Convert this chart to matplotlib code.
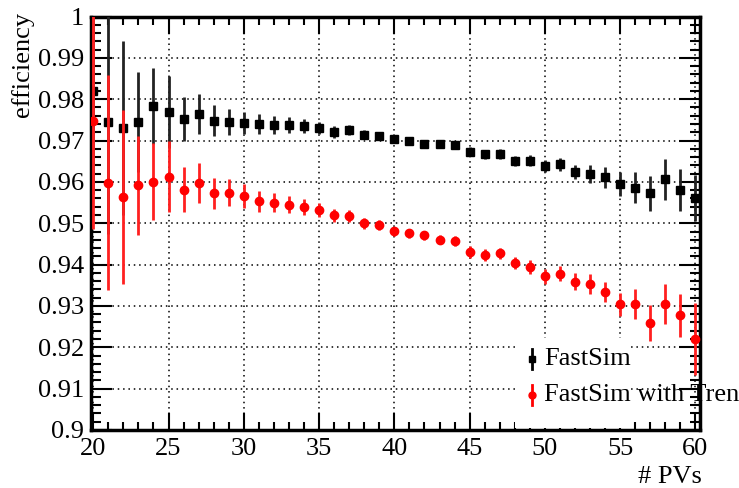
import numpy as np
import matplotlib
matplotlib.use("Agg")
import matplotlib.pyplot as plt
from matplotlib.patches import Rectangle
from matplotlib.ticker import MultipleLocator, FormatStrFormatter

# number of primary vertices
n_pv = list(range(20, 61))

# FastSim efficiency and errors
eff_fast = [0.9820, 0.9745, 0.9730, 0.9745, 0.9783, 0.9769, 0.9753, 0.9764, 0.9748, 0.9745,
            0.9742, 0.9741, 0.9738, 0.9737, 0.9735, 0.9730, 0.9720, 0.9725, 0.9714, 0.9711,
            0.9703, 0.9700, 0.9691, 0.9691, 0.9689, 0.9673, 0.9667, 0.9667, 0.9651, 0.9651,
            0.9639, 0.9643, 0.9624, 0.9619, 0.9611, 0.9595, 0.9586, 0.9572, 0.9606, 0.9580,
            0.9561]
err_fast = [0.0250, 0.0270, 0.0210, 0.0120, 0.0092, 0.0087, 0.0053, 0.0049, 0.0037, 0.0031,
            0.0027, 0.0024, 0.0021, 0.0019, 0.0017, 0.0015, 0.0014, 0.0012, 0.0011, 0.0010,
            0.0010, 0.0009, 0.0009, 0.0010, 0.0010, 0.0011, 0.0011, 0.0012, 0.0012, 0.0013,
            0.0014, 0.0016, 0.0018, 0.0022, 0.0025, 0.0028, 0.0037, 0.0043, 0.0049, 0.0051,
            0.0055]

# FastSim with Tren efficiency and errors
eff_tren = [0.9747, 0.9598, 0.9564, 0.9592, 0.9600, 0.9613, 0.9581, 0.9598, 0.9572, 0.9574,
            0.9565, 0.9553, 0.9550, 0.9545, 0.9539, 0.9533, 0.9519, 0.9518, 0.9500, 0.9495,
            0.9481, 0.9476, 0.9471, 0.9460, 0.9456, 0.9430, 0.9423, 0.9427, 0.9404, 0.9394,
            0.9372, 0.9378, 0.9359, 0.9353, 0.9333, 0.9304, 0.9305, 0.9259, 0.9304, 0.9277,
            0.9219]
err_tren = [0.0260, 0.0260, 0.0210, 0.0120, 0.0093, 0.0085, 0.0054, 0.0048, 0.0037, 0.0033,
            0.0029, 0.0026, 0.0023, 0.0021, 0.0019, 0.0017, 0.0015, 0.0014, 0.0013, 0.0012,
            0.0011, 0.0011, 0.0011, 0.0011, 0.0012, 0.0014, 0.0014, 0.0014, 0.0015, 0.0016,
            0.0018, 0.0018, 0.0020, 0.0024, 0.0024, 0.0028, 0.0037, 0.0044, 0.0048, 0.0051,
            0.0087]

labels = ["FastSim", "FastSim with Tren"]

plt.rcParams['font.family'] = ['Liberation Serif', 'DejaVu Serif']
FS = 19

fig = plt.figure(figsize=(7.39, 4.88), dpi=100)
ax = fig.add_axes([91 / 739, 58 / 488, 609 / 739, 413.5 / 488])

ax.errorbar(n_pv, eff_fast, yerr=err_fast, fmt='s', color='black', ecolor='#222222',
            ms=6, elinewidth=2, capsize=0, zorder=4)
ax.errorbar(n_pv, eff_tren, yerr=err_tren, fmt='o', color='#ff0000', ecolor='#ff2020',
            ms=6, elinewidth=2, capsize=0, zorder=5)

ax.set_xlim(19.85, 60.3)
ax.set_ylim(0.9, 1.0)

ax.xaxis.set_major_locator(MultipleLocator(5))
ax.xaxis.set_minor_locator(MultipleLocator(1))
ax.yaxis.set_major_locator(MultipleLocator(0.01))
ax.yaxis.set_minor_locator(MultipleLocator(0.002))
ax.yaxis.set_major_formatter(FormatStrFormatter('%g'))
ax.xaxis.set_major_formatter(FormatStrFormatter('%g'))

ax.tick_params(which='both', direction='in', top=True, right=True, labelsize=FS, width=1.5)
ax.tick_params(axis='x', which='major', length=12, pad=6)
ax.tick_params(axis='x', which='minor', length=6)
ax.tick_params(axis='y', which='major', length=15, pad=5)
ax.tick_params(axis='y', which='minor', length=7)
for s in ax.spines.values():
    s.set_linewidth(2.5)

ax.grid(True, which='major', linestyle=(0, (1, 2.5)), color='black', linewidth=1.1, zorder=0)
ax.set_axisbelow(True)

# legend (ROOT-style box, text runs past the frame)
ax.add_patch(Rectangle((0.696, 0.005), 0.189, 0.2175, transform=ax.transAxes,
                       facecolor='white', edgecolor='none', zorder=1.5))
leg_y = [0.1717, 0.0846]
for y, lab, col, mk in zip(leg_y, labels, ['black', '#ff0000'], ['s', 'o']):
    ax.plot([0.724, 0.724], [y - 0.024, y + 0.024], color=col, lw=2,
            transform=ax.transAxes, zorder=3, clip_on=False)
    ax.plot([0.724], [y], marker=mk, color=col, ms=5, transform=ax.transAxes,
            zorder=3, clip_on=False)
    ax.text(0.744, y, lab, transform=ax.transAxes, fontsize=FS, va='center',
            ha='left', zorder=3, clip_on=False)

ax.text(-0.113, 1.01, "efficiency", transform=ax.transAxes, rotation=90,
        fontsize=FS, ha='center', va='top')
ax.text(1.003, -0.114, "# PVs", transform=ax.transAxes, fontsize=FS,
        ha='right', va='center')

fig.savefig("out.png", dpi=100)
